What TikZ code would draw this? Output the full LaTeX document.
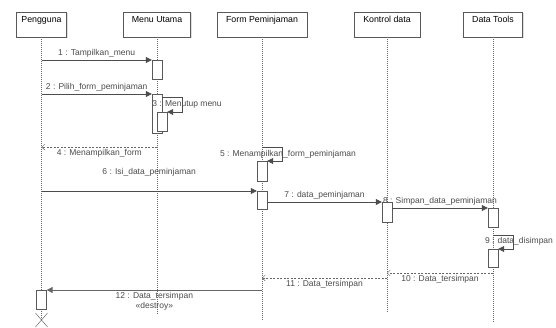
\documentclass[tikz,border=0pt]{standalone}
\usepackage{fontspec}
\setmainfont{Liberation Sans}
\usetikzlibrary{positioning,arrows.meta,shadows}
\begin{document}
\begin{tikzpicture}[x=1pt,y=-1pt,
head/.style={draw=black!65,fill=white,anchor=north,minimum height=25pt,inner sep=2pt,text height=8pt,text depth=13pt,font=\fontsize{8.8}{10}\selectfont,drop shadow={shadow xshift=1.2pt,shadow yshift=-1.2pt,fill=black!25}},
act/.style={draw=black!65,fill=white,anchor=north,minimum width=10pt,inner sep=0pt},
life/.style={black!60,dash pattern=on 1pt off 1pt},
msg/.style={-{Triangle[length=6pt,width=6pt]},black!70,line width=0.6pt},
ret/.style={-{Straight Barb[length=3pt,width=6pt]},black!60,dash pattern=on 2pt off 1.5pt},
lbl/.style={font=\fontsize{8.5}{9.5}\selectfont,text=black!70,inner sep=1pt}]
\useasboundingbox[fill=white] (0,0) rectangle (556,327);
% lifelines
\node[head,minimum width=50pt] (pg) at (41.5,12) {Pengguna};
\node[head,minimum width=67pt] (mu) at (157,12) {Menu Utama};
\node[head,minimum width=90pt] (fp) at (262,12) {Form Peminjaman};
\node[head,minimum width=66pt] (kd) at (387,12) {Kontrol data};
\node[head,minimum width=59pt] (dt) at (493,12) {Data Tools};
\coordinate (pgx) at (41.5,320); \coordinate (muend) at (157,315); \coordinate (fpend) at (262,320);
\coordinate (kdend) at (387,313); \coordinate (dtend) at (493,322);
\draw[life] (pg.south) -- (pgx); \draw[life] (mu.south) -- (muend); \draw[life] (fp.south) -- (fpend);
\draw[life] (kd.south) -- (kdend); \draw[life] (dt.south) -- (dtend);
\draw[black!65] (pgx) +(-6,-7) -- +(6,7) +(-6,7) -- +(6,-7);
% activations
\node[act,minimum height=19pt] (mu1) at (157,60) {};
\node[act,minimum height=39pt] (mu2) at (157,94) {};
\node[act,minimum height=19pt] (mu3) at (162,112) {};
\node[act,minimum height=20pt] (fp1) at (262,161) {};
\node[act,minimum height=18pt] (fp2) at (262,191) {};
\node[act,minimum height=19pt] (pg1) at (41.5,290) {};
\coordinate (m4) at (157,147); \coordinate (m5) at (262,147); \coordinate (m9) at (493,235);
\coordinate (m10) at (493,273); \coordinate (m11) at (387,278);
% messages
\draw[msg] (pg |- mu1.north) -- (mu1.north west) node[lbl,midway,above=1pt] {1 : Tampilkan\_menu};
\draw[msg] (pg |- mu2.north) -- (mu2.north west) node[lbl,midway,above=1pt] {2 : Pilih\_form\_peminjaman};
\draw[msg] ([yshift=-3pt]mu2.north east) -- ++(20,0) |- (mu3.north east);
\node[lbl,anchor=west] (l3) at ([xshift=-11pt,yshift=-10pt]mu2.north east) {3 : Menutup menu};
\draw[ret] (m4) -- (pg |- m4) node[lbl,midway,below=1pt] {4 : Menampilkan\_form};
\draw[msg] (m5) -- ++(20,0) |- (fp1.north east);
\node[lbl] (l5) at (288,154) {5 : Menampilkan\_form\_peminjaman};
\draw[msg] (pg |- fp2.north) -- (fp2.north west) node[lbl,midway,above=13pt] {6 : Isi\_data\_peminjaman};
\node[lbl] (l8) at (440,201) {8 : Simpan\_data\_peminjaman};
\node[act,minimum height=20pt] (kd1) at (387,202) {};
\node[act,minimum height=19pt] (dt1) at (493,208) {};
\node[act,minimum height=18pt] (dt2) at (493,249) {};
\draw[msg] ([yshift=-11pt]fp2.north east) -- (kd1.north west) node[lbl,midway,above=1pt] {7 : data\_peminjaman};
\draw[msg] ([yshift=-6pt]kd1.north east) -- (dt1.north west);
\draw[msg] (m9) -- ++(20,0) |- (dt2.north east);
\node[lbl] (l9) at (519,241) {9 : data\_disimpan};
\draw[ret] (m10) -- (kd |- m10) node[lbl,midway,below=1pt] {10 : Data\_tersimpan};
\draw[ret] (m11) -- (fp |- m11) node[lbl,midway,below=1pt] {11 : Data\_tersimpan};
\draw[msg,line width=1pt,black!60] (fp |- pg1.north) -- (pg1.north east) node[lbl,midway,below=1pt,align=center] {12 : Data\_tersimpan\\«destroy»};
\end{tikzpicture}
\end{document}
